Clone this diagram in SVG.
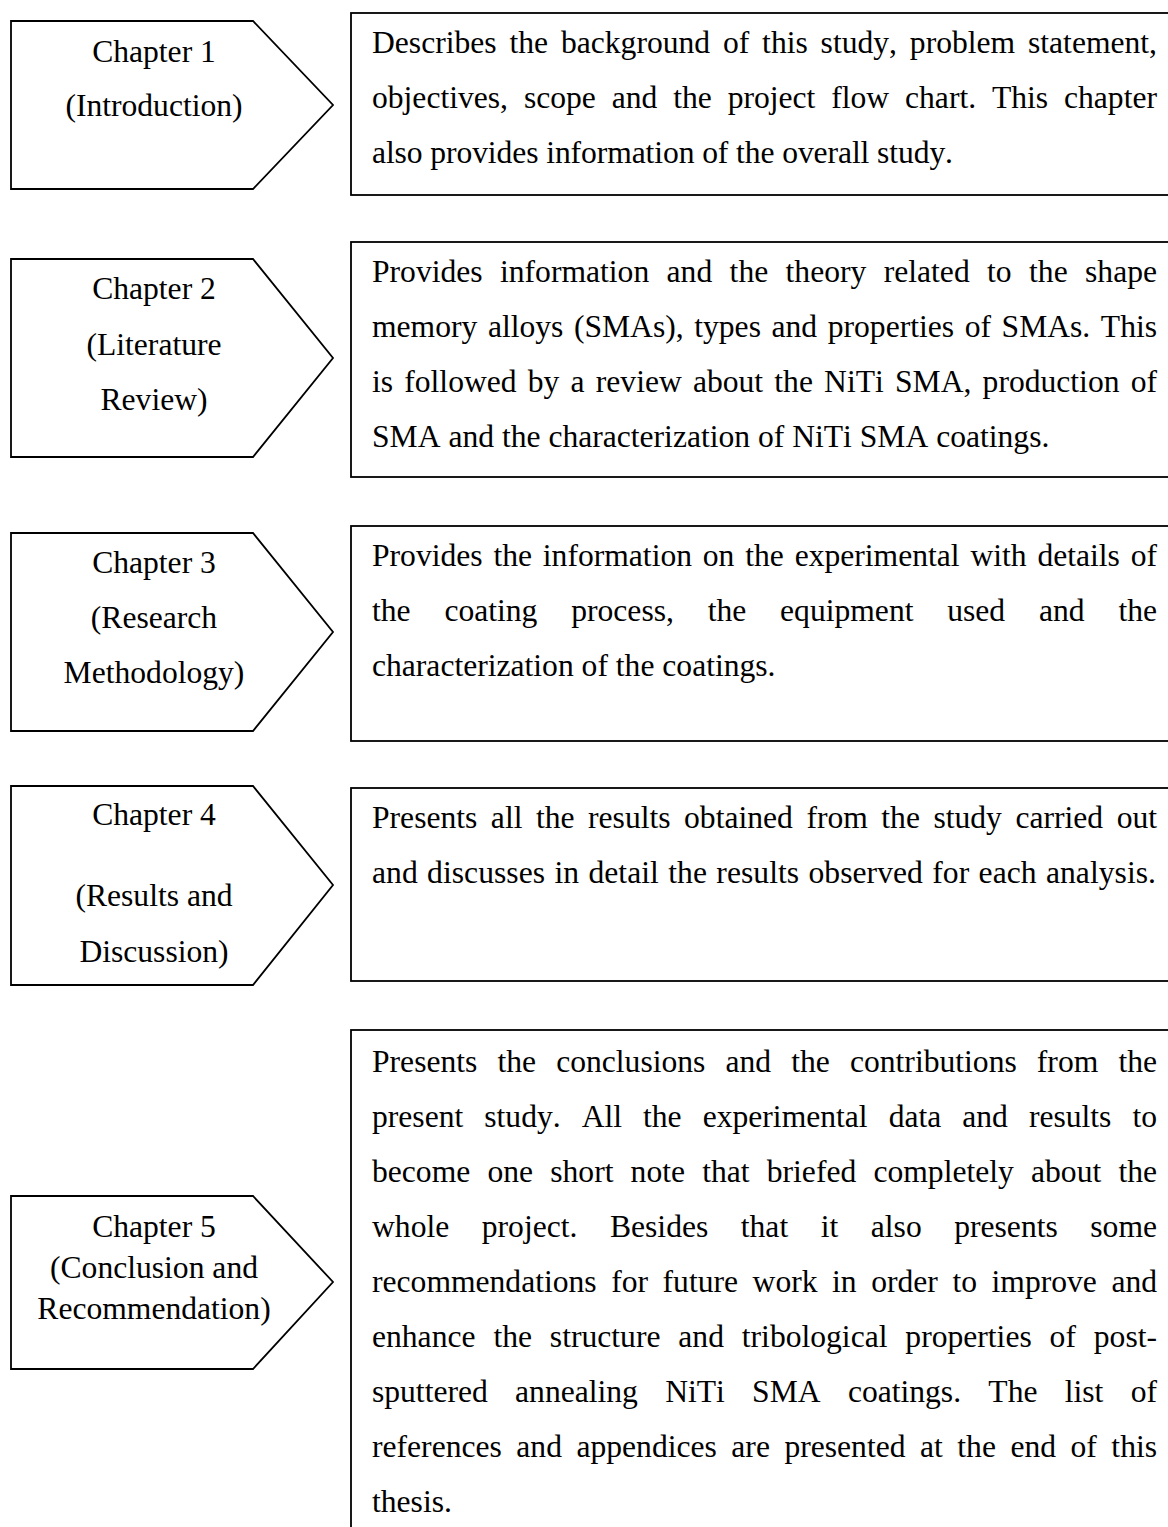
<svg xmlns="http://www.w3.org/2000/svg" width="1168" height="1527" viewBox="0 0 1168 1527">
<style>
.sh{fill:#fff;stroke:#000;stroke-width:1.8;stroke-linejoin:miter}
text{font-family:"Liberation Serif","Times New Roman",serif;font-size:31.6px;fill:#000;font-kerning:none}
.lbl{text-anchor:middle}
</style>
<rect width="1168" height="1527" fill="#fff"/>
<g id="connectors"/>
<g id="ch1">
<polygon class="sh" points="11,21 253,21 333,105 253,189 11,189"/>
<text class="lbl" x="154" y="62">Chapter 1</text>
<text class="lbl" x="154" y="116">(Introduction)</text>
</g>
<g id="desc1">
<rect class="sh" x="351" y="13" width="840" height="182"/>
<text x="372" y="53" word-spacing="4.94" textLength="785" lengthAdjust="spacing">Describes the background of this study, problem statement,</text>
<text x="372" y="108" word-spacing="7.95" textLength="785" lengthAdjust="spacing">objectives, scope and the project flow chart. This chapter</text>
<text x="372" y="163" textLength="581" lengthAdjust="spacing">also provides information of the overall study.</text>
</g>
<g id="ch2">
<polygon class="sh" points="11,259 253,259 333,358 253,457 11,457"/>
<text class="lbl" x="154" y="299">Chapter 2</text>
<text class="lbl" x="154" y="355">(Literature</text>
<text class="lbl" x="154" y="410">Review)</text>
</g>
<g id="desc2">
<rect class="sh" x="351" y="242" width="840" height="235"/>
<text x="372" y="282" word-spacing="9.48" textLength="785" lengthAdjust="spacing">Provides information and the theory related to the shape</text>
<text x="372" y="337" word-spacing="2.67" textLength="785" lengthAdjust="spacing">memory alloys (SMAs), types and properties of SMAs. This</text>
<text x="372" y="392" word-spacing="3.28" textLength="785" lengthAdjust="spacing">is followed by a review about the NiTi SMA, production of</text>
<text x="372" y="447">SMA and the characterization of NiTi SMA coatings.</text>
</g>
<g id="ch3">
<polygon class="sh" points="11,533 253,533 333,632 253,731 11,731"/>
<text class="lbl" x="154" y="573">Chapter 3</text>
<text class="lbl" x="154" y="628">(Research</text>
<text class="lbl" x="154" y="683">Methodology)</text>
</g>
<g id="desc3">
<rect class="sh" x="351" y="526" width="840" height="215"/>
<text x="372" y="566" word-spacing="2.9" textLength="785" lengthAdjust="spacing">Provides the information on the experimental with details of</text>
<text x="372" y="621" word-spacing="25.9" textLength="785" lengthAdjust="spacing">the coating process, the equipment used and the</text>
<text x="372" y="676">characterization of the coatings.</text>
</g>
<g id="ch4">
<polygon class="sh" points="11,786 253,786 333,885 253,985 11,985"/>
<text class="lbl" x="154" y="825">Chapter 4</text>
<text class="lbl" x="154" y="906">(Results and</text>
<text class="lbl" x="154" y="962">Discussion)</text>
</g>
<g id="desc4">
<rect class="sh" x="351" y="788" width="840" height="193"/>
<text x="372" y="828" word-spacing="5.6" textLength="785" lengthAdjust="spacing">Presents all the results obtained from the study carried out</text>
<text x="372" y="883" word-spacing="1.4" textLength="784" lengthAdjust="spacing">and discusses in detail the results observed for each analysis.</text>
</g>
<g id="ch5">
<polygon class="sh" points="11,1196 253,1196 333,1282 253,1369 11,1369"/>
<text class="lbl" x="154" y="1237">Chapter 5</text>
<text class="lbl" x="154" y="1278">(Conclusion and</text>
<text class="lbl" x="154" y="1319">Recommendation)</text>
</g>
<g id="desc5">
<rect class="sh" x="351" y="1030" width="840" height="520"/>
<text x="372" y="1072" word-spacing="12.2" textLength="785" lengthAdjust="spacing">Presents the conclusions and the contributions from the</text>
<text x="372" y="1127" word-spacing="13.1" textLength="785" lengthAdjust="spacing">present study. All the experimental data and results to</text>
<text x="372" y="1182" word-spacing="9.27" textLength="785" lengthAdjust="spacing">become one short note that briefed completely about the</text>
<text x="372" y="1237" word-spacing="24.6" textLength="785" lengthAdjust="spacing">whole project. Besides that it also presents some</text>
<text x="372" y="1292" word-spacing="6.64" textLength="785" lengthAdjust="spacing">recommendations for future work in order to improve and</text>
<text x="372" y="1347" word-spacing="9.97" textLength="785" lengthAdjust="spacing">enhance the structure and tribological properties of post-</text>
<text x="372" y="1402" word-spacing="19.4" textLength="785" lengthAdjust="spacing">sputtered annealing NiTi SMA coatings. The list of</text>
<text x="372" y="1457" word-spacing="6.59" textLength="785" lengthAdjust="spacing">references and appendices are presented at the end of this</text>
<text x="372" y="1512">thesis.</text>
</g>
</svg>
